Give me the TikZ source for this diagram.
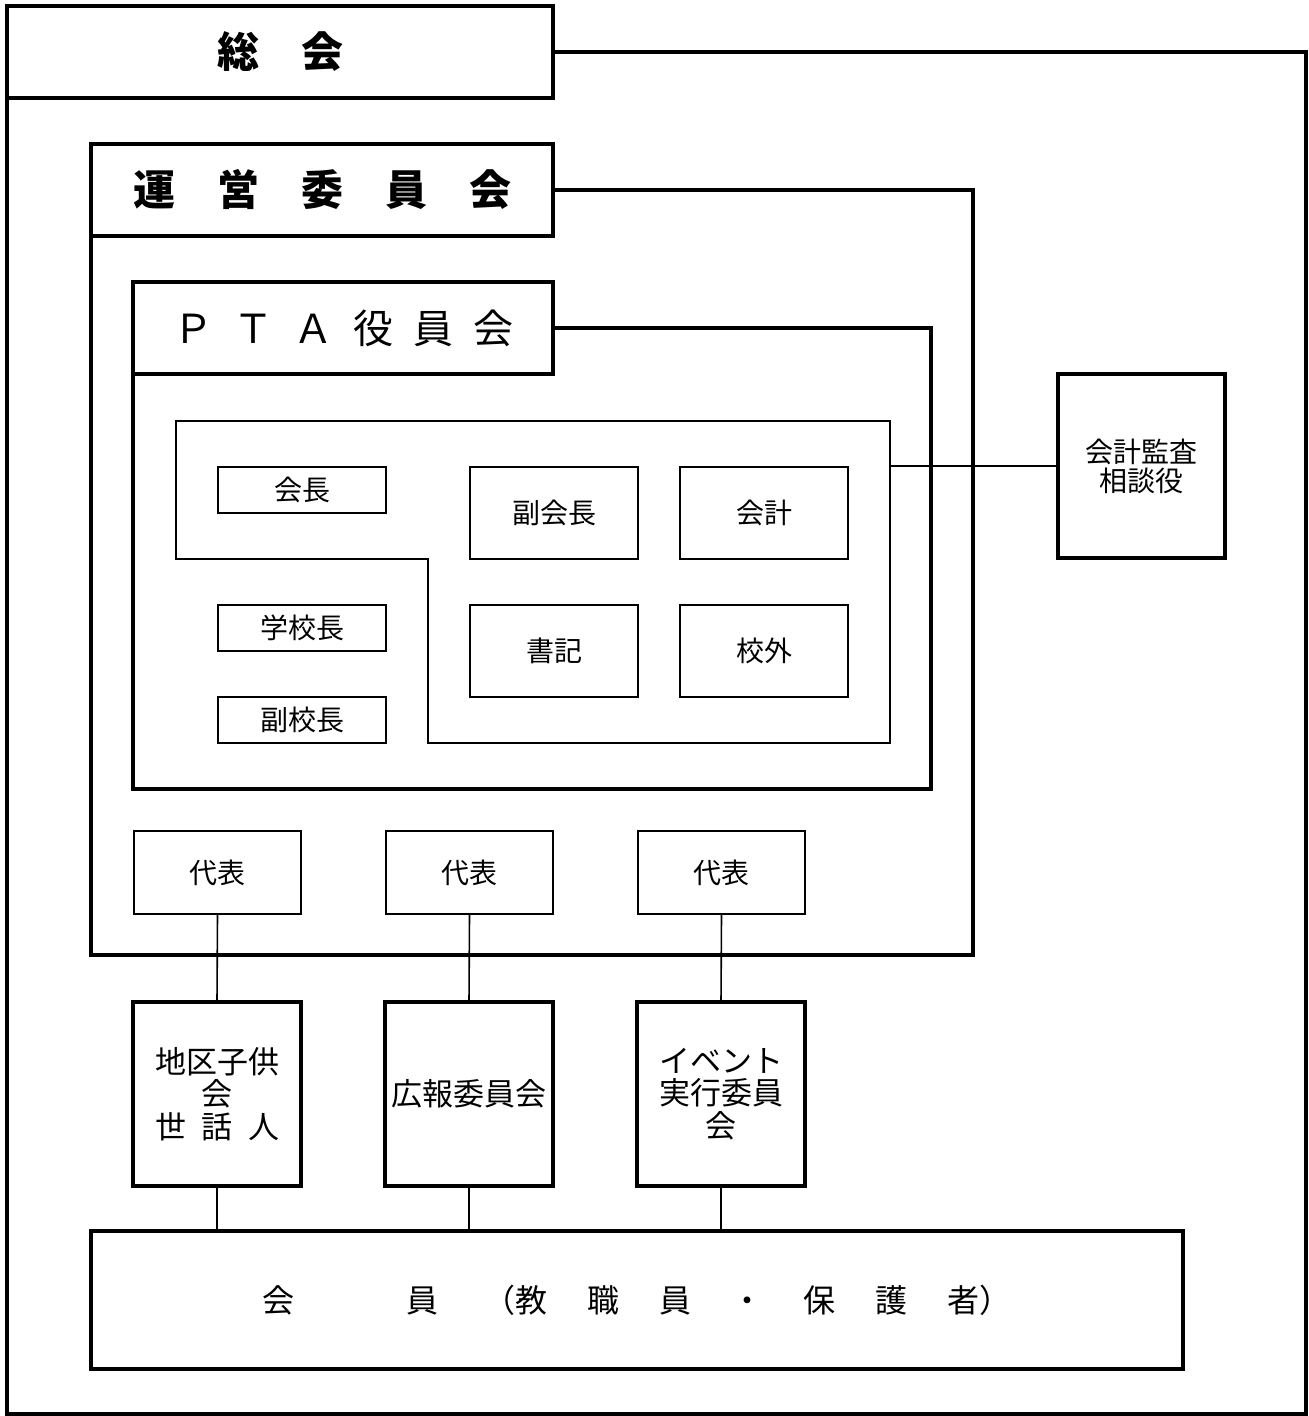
\documentclass[tikz,border=0pt]{standalone}
\usepackage{fontspec}
\setmainfont{Noto Sans CJK JP}
\usetikzlibrary{positioning,calc}

\begin{document}
\begin{tikzpicture}[x=0.5pt,y=-0.5pt,
  heavy/.style={line width=1.8pt},
  light/.style={line width=0.8pt},
  heavybox/.style={draw, heavy, rectangle, outer sep=0pt, inner sep=0pt, align=center},
  lightbox/.style={draw, light, rectangle, outer sep=0pt, inner sep=0pt, align=center},
  bigtext/.style={font=\fontsize{21}{21}\selectfont\bfseries},
  smalltext/.style={font=\fontsize{14}{14.5}\selectfont},
  midtext/.style={font=\fontsize{15.5}{16.3}\selectfont}]
\useasboundingbox (0,0) rectangle (1308,1416);

% titles of the three levels
\node[heavybox, bigtext, minimum width=273pt, minimum height=46pt] (sokai) at (280,52) {総　会};
\node[heavybox, bigtext, minimum width=231pt, minimum height=46pt] (unei) at (322,190) {運　営　委　員　会};
\node[heavybox, font=\fontsize{20}{20}\selectfont, minimum width=210pt, minimum height=46pt] (pta) at (343,328)
  {Ｐ\hspace{.5em}Ｔ\hspace{.5em}Ａ\hspace{.5em}役\hspace{.5em}員\hspace{.5em}会};

% frames
\coordinate (sokai r) at (1306,52);
\coordinate (sokai br) at (1306,1414);
\coordinate (sokai bl) at (7,1414);
\draw[heavy] (sokai.east) -- (sokai r) -- (sokai br) -- (sokai bl) -- (sokai.south west);
\coordinate (unei r) at (973,190);
\coordinate (unei br) at (973,955);
\coordinate (unei bl) at (91,955);
\draw[heavy] (unei.east) -- (unei r) -- (unei br) -- (unei bl) -- (unei.south west);
\coordinate (pta r) at (931,328);
\coordinate (pta br) at (931,789);
\coordinate (pta bl) at (133,789);
\draw[heavy] (pta.east) -- (pta r) -- (pta br) -- (pta bl) -- (pta.south west);

% officers
\draw[light] (176,421) -- (890,421) -- (890,743) -- (428,743) -- (428,559) -- (176,559) -- cycle;
\node[lightbox, smalltext, minimum width=84pt, minimum height=23pt] (kaicho) at (302,490) {会長};
\node[lightbox, smalltext, minimum width=84pt, minimum height=23pt] (gakkocho) at (302,628) {学校長};
\node[lightbox, smalltext, minimum width=84pt, minimum height=23pt] (fukukocho) at (302,720) {副校長};
\node[lightbox, smalltext, minimum width=84pt, minimum height=46pt] (fukukaicho) at (554,513) {副会長};
\node[lightbox, smalltext, minimum width=84pt, minimum height=46pt] (kaikei) at (764,513) {会計};
\node[lightbox, smalltext, minimum width=84pt, minimum height=46pt] (shoki) at (554,651) {書記};
\node[lightbox, smalltext, minimum width=84pt, minimum height=46pt] (kogai) at (764,651) {校外};

\node[heavybox, smalltext, minimum width=83.5pt, minimum height=92pt] (kansa) at (1141.5,466) {会計監査\\相談役};
\coordinate (yakuin r) at (890,466);
\draw[light] (yakuin r) -- (kansa.west);

% representatives and committees
\node[lightbox, smalltext, minimum width=83.5pt, minimum height=41.5pt] (daihyo1) at (217.5,872.5) {代表};
\node[lightbox, smalltext, minimum width=83.5pt, minimum height=41.5pt] (daihyo2) at (469.5,872.5) {代表};
\node[lightbox, smalltext, minimum width=83.5pt, minimum height=41.5pt] (daihyo3) at (721.5,872.5) {代表};

\node[heavybox, midtext, minimum width=84pt, minimum height=92pt] (chiku) at (217,1094)
  {地区子供\\会\\世\hspace{.5em}話\hspace{.5em}人};
\node[heavybox, midtext, minimum width=84pt, minimum height=92pt] (koho) at (469,1094) {広報委員会};
\node[heavybox, midtext, minimum width=84pt, minimum height=92pt] (event) at (721,1094) {イベント\\実行委員\\会};

\node[heavybox, font=\fontsize{16}{16}\selectfont, minimum width=546pt, minimum height=69pt] (kaiin) at (637,1300)
  {会\hspace{3.5em}員\hspace{1.4em}（教\hspace{1.25em}職\hspace{1.25em}員\hspace{1.25em}・\hspace{1.25em}保\hspace{1.25em}護\hspace{1.25em}者）};

\draw[light] (daihyo1.south) -- (chiku.north);
\draw[light] (daihyo2.south) -- (koho.north);
\draw[light] (daihyo3.south) -- (event.north);
\draw[light] (chiku.south) -- (chiku.south |- kaiin.north);
\draw[light] (koho.south) -- (koho.south |- kaiin.north);
\draw[light] (event.south) -- (event.south |- kaiin.north);
\end{tikzpicture}
\end{document}
